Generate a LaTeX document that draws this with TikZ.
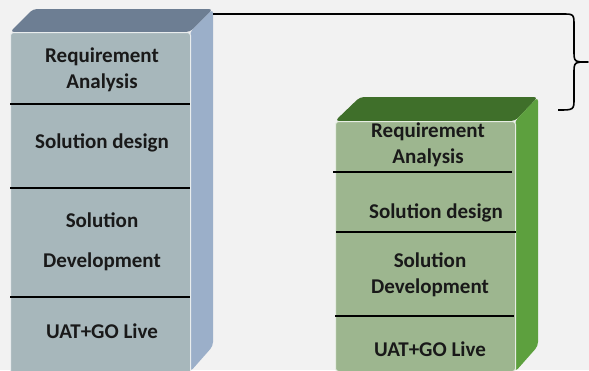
\documentclass[tikz,border=0pt]{standalone}
\usepackage{fontspec}
\setmainfont{Carlito}
\definecolor{bg}{HTML}{F2F2F2}
\definecolor{btop}{HTML}{6D7E93}
\definecolor{bside}{HTML}{9BAFC9}
\definecolor{bfront}{HTML}{A7B7BB}
\definecolor{gtop}{HTML}{3F6F2A}
\definecolor{gside}{HTML}{5DA03E}
\definecolor{gfront}{HTML}{9DB68F}
\begin{document}
\begin{tikzpicture}[x=1pt,y=-1pt,
  lbl/.style={font=\fontsize{21}{26}\selectfont\bfseries, align=center, inner sep=0pt, text=black!90},
  sep/.style={line width=1.5pt, black},
  frontface/.style={draw=white!75!#1, line width=1pt, fill=#1, rounded corners=3pt, inner sep=0pt, minimum width=180pt},
  bracestyle/.style={line width=1.6pt, black}]
\fill[bg] (0,0) rectangle (589,370);
\useasboundingbox (0,0) rectangle (589,370);
% ---------- left box ----------
\fill[btop, rounded corners=4pt] (10,32) -- (33,9) -- (213,9) -- (190,32) -- cycle;
\fill[bside, rounded corners=4pt] (190,32) -- (213,9) -- (213,346) -- (190,372) -- cycle;
\node[frontface=bfront, minimum height=345pt, anchor=north west] (lfront) at (10,32) {};
\coordinate (lcorner) at (213,14);
\draw[sep] (10,104) -- (190,104);
\draw[sep] (10,188) -- (190,188);
\draw[sep] (10,297) -- (190,297);
\node[lbl] (l1) at (102,70) {Requirement\\Analysis};
\node[lbl] (l2) at (102,143) {Solution design};
\node[lbl] (l3) at (102,242) {Solution\\[14pt]Development};
\node[lbl] (l4) at (102,331) {UAT+GO Live};
% ---------- right box ----------
\fill[gtop, rounded corners=4pt] (335,121) -- (360,97) -- (538,97) -- (515,121) -- cycle;
\fill[gside, rounded corners=4pt] (515,121) -- (538,97) -- (538,346) -- (515,372) -- cycle;
\node[frontface=gfront, minimum height=250pt, anchor=north west] (rfront) at (335,121) {};
\draw[sep] (333,172) -- (512,172);
\draw[sep] (336,232) -- (516,232);
\draw[sep] (335,316) -- (514,316);
\node[lbl] (r1) at (428,145) {Requirement\\Analysis};
\node[lbl] (r2) at (436,213) {Solution design};
\node[lbl] (r3) at (430,275) {Solution\\Development};
\node[lbl] (r4) at (430,349) {UAT+GO Live};
% ---------- brace ----------
\coordinate (btip) at (588,62);
\coordinate (bend) at (558,110);
\draw[bracestyle, line join=round] (lcorner) -- (562,14) .. controls (574,14) .. (574,26) -- (574,50)
  .. controls (574,62) .. (btip) .. controls (574,62) .. (574,74) -- (574,98)
  .. controls (574,110) .. (bend);
\end{tikzpicture}
\end{document}
